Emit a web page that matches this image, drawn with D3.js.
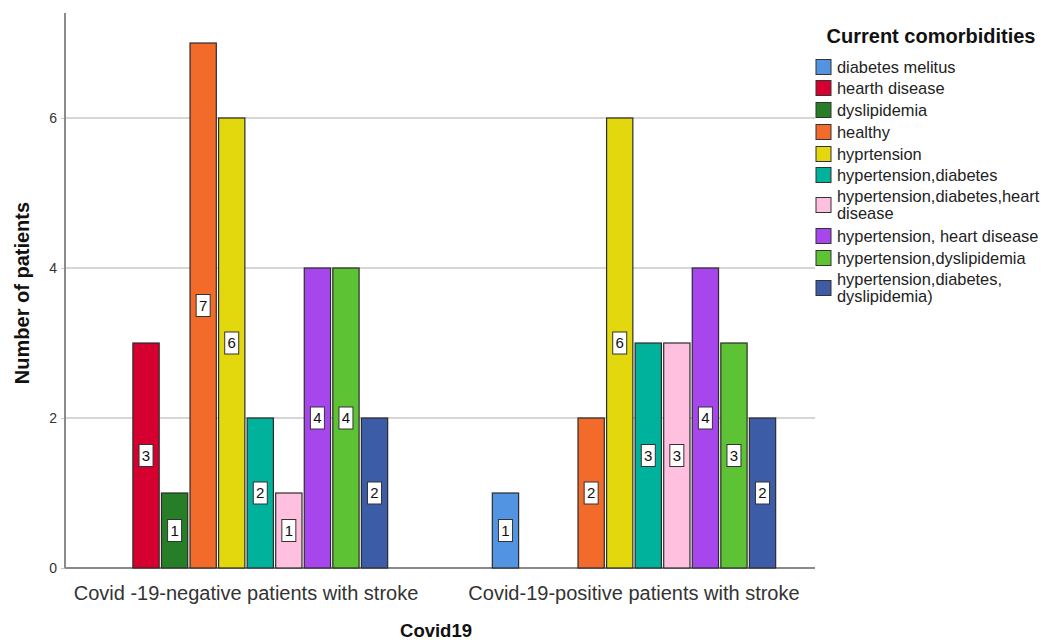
<!DOCTYPE html>
<html><head><meta charset="utf-8">
<script src="https://cdn.jsdelivr.net/npm/d3@7"></script>
<style>body{margin:0;background:#fff;} text{font-family:"Liberation Sans",Arial,sans-serif;}</style>
</head><body><svg id="c" width="1046" height="640"></svg>
<script>
const groups = ["Covid -19-negative patients with stroke", "Covid-19-positive patients with stroke"];
const categories = ["diabetes melitus","hearth disease","dyslipidemia","healthy","hyprtension","hypertension,diabetes","hypertension,diabetes,heart disease","hypertension, heart disease","hypertension,dyslipidemia","hypertension,diabetes, dyslipidemia)"];
const legendLines = [["diabetes melitus"],["hearth disease"],["dyslipidemia"],["healthy"],["hyprtension"],["hypertension,diabetes"],["hypertension,diabetes,heart","disease"],["hypertension, heart disease"],["hypertension,dyslipidemia"],["hypertension,diabetes,","dyslipidemia)"]];
const negativeValues = [0,3,1,7,6,2,1,4,4,2];
const positiveValues = [1,0,0,2,6,3,3,4,3,2];
const colors = ["#5294e2","#d5002f","#267f26","#f26b2a","#e3d70e","#00b19c","#ffc0e0","#a846ee","#5ec334","#3d5ca8"];
const yTicks = [0,2,4,6];

(function(){
const series = [negativeValues, positiveValues];
const svg = d3.select("#c");
const pl = 65, pr = 815, pt = 13, pb = 568;

const y = d3.scaleLinear().domain([0, 7.4]).range([pb, pt]);
const x0 = d3.scaleBand().domain(groups).range([pl, pr]).paddingInner(0.258).paddingOuter(0.0955);
const x1 = d3.scaleBand().domain(categories).range([0, x0.bandwidth()]).padding(0.08);

// grid
svg.append("g").selectAll("line").data(yTicks.filter(d=>d>0)).join("line")
  .attr("x1", pl).attr("x2", pr).attr("y1", d=>y(d)).attr("y2", d=>y(d))
  .attr("stroke", "#d6d6d6").attr("stroke-width", 2);

// y axis
const yAxis = svg.append("g").attr("transform", `translate(${pl},0)`)
  .call(d3.axisLeft(y).tickValues(yTicks).tickSize(4).tickPadding(4));
yAxis.select(".domain").remove();
yAxis.selectAll(".tick line").attr("stroke", "#c8c8c8");
yAxis.selectAll("text").attr("font-size", 14).attr("fill", "#333").attr("font-family", "Liberation Sans, Arial, sans-serif");
svg.append("line").attr("x1", pl).attr("x2", pl).attr("y1", pt).attr("y2", pb).attr("stroke", "#8a8a8a").attr("stroke-width", 2);
svg.append("line").attr("x1", pl).attr("x2", pr).attr("y1", pb).attr("y2", pb).attr("stroke", "#8a8a8a").attr("stroke-width", 2);

// bars
const gGroups = svg.append("g").selectAll("g").data(groups).join("g")
  .attr("transform", d => `translate(${x0(d)},0)`);
gGroups.each(function(g, gi) {
  const vals = series[gi];
  const sel = d3.select(this);
  sel.selectAll("rect").data(vals).join("rect")
    .attr("x", (d,i) => x1(categories[i]))
    .attr("width", x1.bandwidth())
    .attr("y", d => y(d))
    .attr("height", d => pb - y(d))
    .attr("fill", (d,i) => colors[i])
    .attr("stroke", "#2b2b2b").attr("stroke-width", 1.2);
  const lab = sel.selectAll("g.lab").data(vals.map((v,i)=>({v,i})).filter(d=>d.v>0)).join("g").attr("class","lab")
    .attr("transform", d => `translate(${x1(categories[d.i]) + x1.bandwidth()/2},${y(d.v/2)})`);
  lab.append("rect").attr("x", -7).attr("y", -11).attr("width", 14).attr("height", 22)
    .attr("fill", "#fff").attr("stroke", "#333").attr("stroke-width", 1);
  lab.append("text").attr("text-anchor", "middle").attr("dy", "0.36em").attr("font-size", 15).attr("fill", "#111").text(d => d.v);
});

// x category labels
svg.append("g").selectAll("text").data(groups).join("text")
  .attr("x", d => x0(d) + x0.bandwidth()/2).attr("y", 600)
  .attr("text-anchor", "middle").attr("font-size", 20).attr("fill", "#333").text(d => d);

// axis titles
svg.append("text").attr("x", 436).attr("y", 637).attr("text-anchor", "middle").attr("font-size", 18.5).attr("font-weight", "bold").attr("fill", "#111").text("Covid19");
svg.append("text").attr("transform", "translate(29,293) rotate(-90)").attr("text-anchor", "middle").attr("font-size", 20).attr("font-weight", "bold").attr("fill", "#111").text("Number of patients");

// legend
svg.append("text").attr("x", 931).attr("y", 43).attr("text-anchor", "middle").attr("font-size", 20).attr("font-weight", "bold").attr("fill", "#111").text("Current comorbidities");
const legendY = [67, 88, 110, 132, 154, 175, 205, 236, 258, 288];
const lg = svg.append("g").selectAll("g").data(categories).join("g")
  .attr("transform", (d,i) => `translate(816,${legendY[i]})`);
lg.append("rect").attr("x", 0).attr("y", -7.5).attr("width", 15).attr("height", 15)
  .attr("fill", (d,i) => colors[i]).attr("stroke", "#333").attr("stroke-width", 1);
lg.each(function(d, i) {
  const lines = legendLines[i];
  const t = d3.select(this).append("text").attr("x", 21).attr("font-size", 16.4).attr("fill", "#222");
  lines.forEach((ln, k) => {
    t.append("tspan").attr("x", 21).attr("y", (k - (lines.length-1)/2) * 16.5 + 5.5).text(ln);
  });
});
})();
</script></body></html>
